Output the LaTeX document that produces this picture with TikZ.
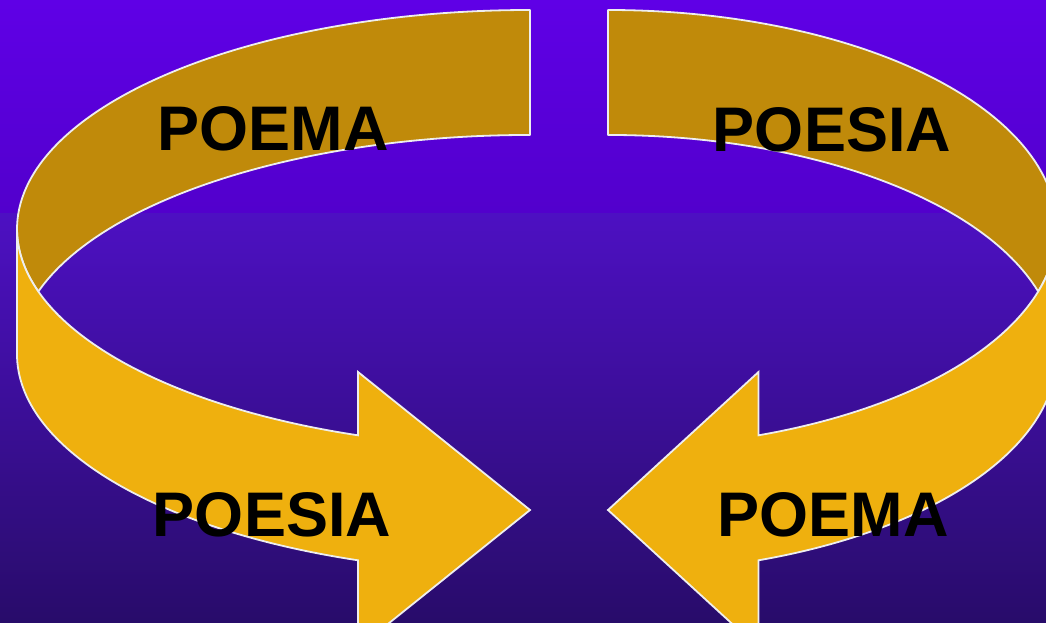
\documentclass[tikz,border=0pt]{standalone}
\usepackage{fontspec}
\setmainfont{Liberation Sans}
\usepackage{tikz}
\usetikzlibrary{positioning,calc}
\definecolor{skytop}{HTML}{5F00E6}
\definecolor{skymid}{HTML}{5200CC}
\definecolor{floortop}{HTML}{4D10C2}
\definecolor{floorbot}{HTML}{280C6A}
\definecolor{goldback}{HTML}{C08A0A}
\definecolor{goldfront}{HTML}{EFB00E}
\definecolor{rim}{HTML}{EEEEEE}
\tikzset{
  % band
  bk/.style={fill=goldback,draw=rim,line width=1.8pt,line join=round},
  fr/.style={fill=goldfront,draw=rim,line width=1.8pt,line join=miter},
  % words
  lbl/.style={anchor=base,inner sep=0pt,text=black,
              font=\bfseries\fontsize{63}{63}\selectfont},
}
\begin{document}
\begin{tikzpicture}[x=1pt,y=1pt]
  \useasboundingbox (0,0) rectangle (1046,623);
  \clip (0,0) rectangle (1046,623);
  \shade[top color=skytop,bottom color=skymid] (0,409) rectangle (1046,623);
  \shade[top color=floortop,bottom color=floorbot] (0,0) rectangle (1046,409);
  % left band, then the right one mirrored and narrowed
  \foreach \sx/\dx in {1/0,-0.875/1071.75}{
  \begin{scope}[xshift=\dx pt,xscale=\sx]
  \draw[bk] (530,613) arc[start angle=90,end angle=196.58,x radius=513,y radius=219]
    arc[start angle=163.42,end angle=90,x radius=513,y radius=219] -- cycle;
  \draw[fr] (17,394) arc[start angle=180,end angle=250.41,x radius=513,y radius=219]
    -- (358,251) -- (530,113) -- (358,-25) -- (358,62.7)
    arc[start angle=250.41,end angle=180,x radius=513,y radius=219] -- cycle;
  \end{scope}
  }
  \node[lbl] (tl) at (273,472) {POEMA};
  \node[lbl] (tr) at (832,471) {POESIA};
  \node[lbl] (bl) at (272,86) {POESIA};
  \node[lbl] (br) at (833,86) {POEMA};
\end{tikzpicture}
\end{document}
